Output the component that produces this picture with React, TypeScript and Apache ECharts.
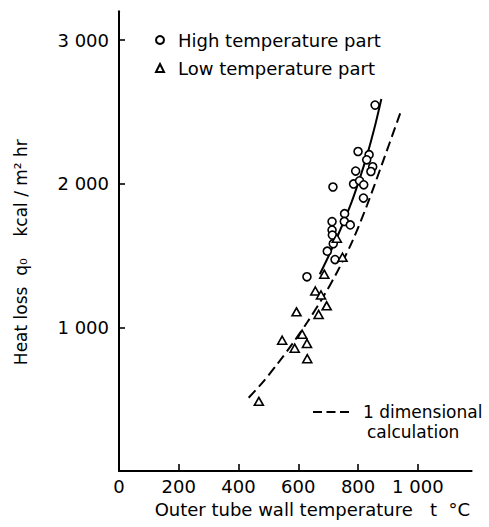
import React, { useEffect, useRef } from "react";
import * as echarts from "echarts";

// High temperature part (circles)
const highT = [857, 800, 837, 829, 849, 843, 792, 716, 785, 805, 819, 818, 755, 754, 774, 713, 713, 714, 717, 697, 723, 629];
const highQ = [2547, 2224, 2202, 2166, 2118, 2085, 2088, 1977, 1998, 2020, 1992, 1900, 1791, 1737, 1713, 1736, 1677, 1642, 1582, 1530, 1472, 1352];

// Low temperature part (triangles)
const lowT = [729, 748, 687, 657, 676, 695, 594, 668, 613, 546, 629, 588, 630, 468];
const lowQ = [1620, 1488, 1370, 1253, 1225, 1150, 1108, 1090, 952, 910, 888, 855, 782, 485];

// Solid experimental curve
const fitT = [672, 700, 725, 752, 778, 803, 829, 854, 878];
const fitQ = [1370, 1490, 1605, 1735, 1870, 2020, 2190, 2380, 2590];

// 1 dimensional calculation (dashed)
const calcT = [434, 480, 530, 580, 630, 680, 730, 780, 830, 880, 941];
const calcQ = [510, 615, 745, 885, 1035, 1200, 1385, 1595, 1850, 2135, 2490];

const xTicks = [200, 400, 600, 800, 1000];
const xLabels = [0, 200, 400, 600, 800, 1000];
const yTicks = [1000, 2000, 3000];

const FONT = "DejaVu Sans";

const fmt = (v: number) => String(v).replace(/\B(?=(\d{3})+(?!\d))/g, " ");
const zip = (a: number[], b: number[]) => a.map((v, i) => [v, b[i]]);

export default function App() {
  const ref = useRef<HTMLDivElement>(null);
  useEffect(() => {
    if (!ref.current) return;
    const chart = echarts.init(ref.current, null, { renderer: "svg" });
    chart.setOption({
      animation: false,
      backgroundColor: "#fff",
      grid: { left: 119, right: 17.4, top: 11.3, bottom: 56 },
      xAxis: {
        type: "value",
        min: 0,
        max: 1180,
        splitLine: { show: false },
        axisLine: { onZero: false, lineStyle: { color: "#000", width: 2 } },
        axisTick: { inside: true, length: 7, customValues: xTicks, lineStyle: { color: "#000", width: 1.6 } },
        axisLabel: {
          customValues: xLabels,
          formatter: (v: number) => fmt(v),
          fontSize: 18,
          fontFamily: FONT,
          color: "#000",
          margin: 6,
        },
        name: "Outer tube wall temperature   t  °C",
        nameLocation: "end",
        nameGap: -1.6,
        nameTextStyle: {
          fontSize: 18,
          fontFamily: FONT,
          color: "#000",
          align: "right",
          verticalAlign: "top",
          padding: [29, 0, 0, 0],
        },
      },
      yAxis: {
        type: "value",
        min: 0,
        max: 3200,
        splitLine: { show: false },
        axisLine: { onZero: false, lineStyle: { color: "#000", width: 2 } },
        axisTick: { inside: true, length: 6, customValues: yTicks, lineStyle: { color: "#000", width: 1.6 } },
        axisLabel: {
          customValues: yTicks,
          formatter: (v: number) => fmt(v),
          fontSize: 18,
          fontFamily: FONT,
          color: "#000",
          margin: 10,
        },
        name: "Heat loss  q\u2080    kcal / m\u00b2 hr",
        nameLocation: "middle",
        nameGap: 90,
        nameTextStyle: {
          fontSize: 17,
          fontFamily: FONT,
          color: "#000",
          padding: [0, 22, 0, 0],
        },
      },
      legend: [
        {
          orient: "vertical",
          left: 155,
          top: 30,
          padding: 0,
          itemGap: 8,
          itemWidth: 8,
          itemHeight: 8,
          data: ["High temperature part", "Low temperature part"],
          textStyle: { fontSize: 18, fontFamily: FONT, color: "#000", lineHeight: 20, padding: [0, 0, 0, 9] },
        },
        {
          left: 312,
          top: 402,
          padding: 0,
          itemWidth: 36,
          itemHeight: 20,
          data: ["1 dimensional calculation"],
          formatter: () => "1 dimensional",
          itemStyle: { opacity: 0 },
          lineStyle: { color: "#000", width: 2, type: [9, 4.5] },
          textStyle: { fontSize: 17, fontFamily: FONT, color: "#000", lineHeight: 20, padding: [0, 0, 0, 9] },
        },
      ],
      graphic: [
        {
          type: "text",
          x: 367,
          y: 432,
          style: { text: "calculation", font: `17px "${FONT}"`, fill: "#000", verticalAlign: "middle" },
        },
      ],
      series: [
        {
          name: "1 dimensional calculation",
          type: "line",
          data: zip(calcT, calcQ),
          symbol: "none",
          smooth: 0.3,
          z: 1,
          lineStyle: { color: "#000", width: 2, type: [10, 5] },
          itemStyle: { color: "#000" },
        },
        {
          name: "Experimental curve",
          type: "line",
          data: zip(fitT, fitQ),
          symbol: "none",
          smooth: 0.3,
          z: 1,
          lineStyle: { color: "#000", width: 2 },
        },
        {
          name: "High temperature part",
          type: "scatter",
          data: zip(highT, highQ),
          symbol: "circle",
          symbolSize: 8,
          z: 3,
          itemStyle: { color: "#fff", borderColor: "#000", borderWidth: 1.6, opacity: 1 },
        },
        {
          name: "Low temperature part",
          type: "scatter",
          data: zip(lowT, lowQ),
          symbol: "triangle",
          symbolSize: [9, 8],
          z: 3,
          itemStyle: { color: "#fff", borderColor: "#000", borderWidth: 1.6, opacity: 1 },
        },
      ],
    });
    return () => chart.dispose();
  }, []);
  return (
    <div
      ref={ref}
      style={{ position: "absolute", left: 0, top: 0, width: 489, height: 527 }}
    />
  );
}
